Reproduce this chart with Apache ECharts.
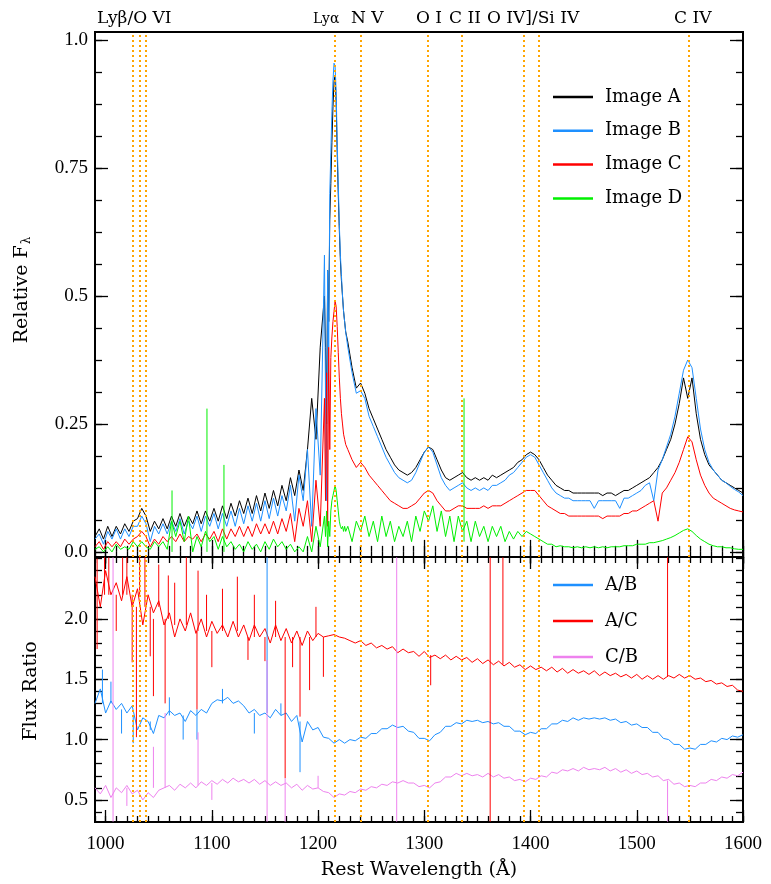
<!DOCTYPE html>
<html><head><meta charset="utf-8">
<script src="https://cdn.jsdelivr.net/npm/echarts@6/dist/echarts.min.js"></script>
<style>html,body{margin:0;padding:0;background:#fff}#c{width:771px;height:884px}</style>
</head><body><div id="c"></div>
<script>
// ---------------- DATA ----------------
const waveTop = [990,994,998,1002,1006,1010,1014,1018,1022,1026,1030,1034,1038,1042,1046,1050,1054,1058,1062,1066,1070,1074,1078,1082,1086,1090,1094,1098,1102,1106,1110,1114,1118,1122,1126,1130,1134,1138,1142,1146,1150,1154,1158,1162,1166,1170,1174,1178,1182,1186,1190,1194,1198,1202,1206,
1207,1208,1209,1210,1211,1212,1213,1214,1215,1216,1217,1218,1219,1220,1221,1222,1223,1224,1225,1226,
1228,1232,1236,1240,1244,1248,1252,1256,1260,1264,1268,1272,1276,1280,1284,1288,1292,1296,1300,1304,1308,1312,1316,1320,1324,1328,1332,1336,1340,1344,1348,1352,1356,1360,1364,1368,1372,1376,1380,1384,1388,1392,1396,1400,1404,1408,1412,1416,1420,1424,1428,1432,1436,1440,1444,1448,1452,1456,1460,1464,1468,1472,1476,1480,1484,1488,1492,1496,1500,1504,1508,1512,1516,1520,1524,1528,1532,1536,1540,1544,1548,1552,1556,1560,1564,1568,1572,1576,1580,1584,1588,1592,1596,1600];

const fluxA = [0.03,0.045,0.025,0.05,0.03,0.05,0.035,0.055,0.04,0.06,0.065,0.085,0.07,0.04,0.06,0.045,0.065,0.045,0.07,0.05,0.075,0.05,0.07,0.055,0.08,0.055,0.08,0.06,0.085,0.06,0.09,0.065,0.095,0.07,0.1,0.075,0.105,0.075,0.11,0.08,0.115,0.085,0.12,0.09,0.13,0.1,0.145,0.11,0.16,0.12,0.2,0.3,0.22,0.4,0.5,
0.4,0.25,0.55,0.45,0.65,0.72,0.8,0.87,0.92,0.93,0.88,0.78,0.7,0.63,0.57,0.53,0.5,0.47,0.45,0.43,
0.41,0.36,0.32,0.33,0.31,0.28,0.26,0.24,0.22,0.2,0.185,0.17,0.16,0.155,0.15,0.155,0.165,0.18,0.195,0.205,0.2,0.18,0.16,0.145,0.14,0.145,0.15,0.155,0.145,0.14,0.145,0.14,0.145,0.14,0.15,0.145,0.15,0.155,0.16,0.165,0.175,0.18,0.19,0.195,0.19,0.18,0.165,0.15,0.14,0.13,0.125,0.12,0.12,0.115,0.115,0.115,0.115,0.115,0.115,0.115,0.11,0.115,0.115,0.11,0.115,0.12,0.12,0.125,0.13,0.135,0.14,0.145,0.155,0.165,0.18,0.2,0.22,0.25,0.29,0.34,0.3,0.34,0.27,0.22,0.19,0.17,0.16,0.15,0.14,0.135,0.13,0.125,0.12,0.115];

const fluxB = [0.025,0.035,0.015,0.04,0.025,0.045,0.025,0.045,0.03,0.05,0.05,0.07,0.055,0.02,0.05,0.035,0.055,0.035,0.06,0.04,0.065,0.035,0.06,0.045,0.07,0.04,0.07,0.05,0.075,0.045,0.075,0.05,0.08,0.05,0.085,0.055,0.09,0.06,0.095,0.06,0.1,0.065,0.105,0.07,0.11,0.08,0.13,0.06,0.15,0.1,0.2,0.05,0.28,0.15,0.58,
0.3,0.1,0.55,0.4,0.7,0.78,0.86,0.92,0.955,0.95,0.9,0.8,0.72,0.64,0.58,0.54,0.5,0.47,0.45,0.43,
0.4,0.35,0.31,0.315,0.3,0.265,0.245,0.225,0.205,0.185,0.17,0.155,0.145,0.14,0.135,0.14,0.155,0.175,0.195,0.205,0.195,0.17,0.145,0.13,0.12,0.125,0.13,0.135,0.125,0.12,0.125,0.12,0.125,0.12,0.13,0.13,0.135,0.14,0.15,0.155,0.165,0.175,0.185,0.19,0.185,0.17,0.155,0.14,0.125,0.115,0.11,0.105,0.105,0.1,0.1,0.1,0.1,0.1,0.085,0.1,0.1,0.1,0.1,0.1,0.085,0.105,0.105,0.11,0.115,0.12,0.13,0.135,0.1,0.16,0.18,0.205,0.23,0.265,0.31,0.355,0.375,0.36,0.3,0.24,0.2,0.175,0.16,0.15,0.14,0.135,0.128,0.122,0.117,0.11];

const fluxC = [0.01,0.02,0.005,0.02,0.01,0.02,0.01,0.025,0.015,0.025,0.03,0.04,0.03,0.01,0.025,0.015,0.03,0.02,0.03,0.02,0.035,0.02,0.03,0.025,0.035,0.02,0.035,0.025,0.04,0.02,0.045,0.025,0.045,0.03,0.05,0.03,0.05,0.03,0.055,0.035,0.055,0.035,0.06,0.035,0.065,0.04,0.075,0.02,0.085,0.05,0.1,0.02,0.14,0.05,0.3,
0.1,0.35,0.05,0.4,0.2,0.38,0.42,0.45,0.47,0.49,0.48,0.44,0.39,0.34,0.3,0.27,0.25,0.23,0.22,0.21,
0.2,0.18,0.165,0.175,0.165,0.15,0.14,0.13,0.12,0.11,0.1,0.095,0.09,0.085,0.085,0.09,0.095,0.105,0.115,0.12,0.115,0.1,0.09,0.08,0.08,0.085,0.09,0.09,0.085,0.085,0.085,0.085,0.09,0.085,0.09,0.09,0.09,0.095,0.1,0.105,0.11,0.115,0.12,0.12,0.12,0.11,0.1,0.09,0.085,0.08,0.075,0.075,0.07,0.07,0.07,0.07,0.07,0.07,0.07,0.07,0.065,0.07,0.07,0.07,0.07,0.075,0.075,0.08,0.08,0.085,0.09,0.095,0.1,0.06,0.115,0.125,0.14,0.155,0.175,0.2,0.225,0.215,0.18,0.15,0.13,0.115,0.105,0.1,0.095,0.09,0.085,0.082,0.08,0.078];

const fluxD = [0.005,0.01,0.0,0.01,0.0,0.015,0.005,0.01,0.005,0.02,0.01,0.02,0.01,0.005,0.02,0.01,0.02,0.005,0.06,0.03,0.06,0.02,0.07,0.0,0.03,0.01,0.04,0.02,0.03,0.005,0.03,0.01,0.02,0.005,0.015,0.0,0.02,0.005,0.015,0.0,0.02,0.005,0.025,0.01,0.02,0.005,0.015,0.0,0.01,0.0,0.03,0.0,0.05,0.01,0.07,
0.03,0.08,0.01,0.06,0.03,0.08,0.1,0.11,0.12,0.13,0.12,0.1,0.08,0.06,0.05,0.045,0.05,0.04,0.05,0.04,
0.05,0.02,0.06,0.04,0.07,0.03,0.06,0.02,0.07,0.03,0.06,0.02,0.05,0.03,0.06,0.02,0.07,0.04,0.08,0.06,0.09,0.04,0.08,0.03,0.07,0.02,0.07,0.04,0.06,0.02,0.06,0.03,0.05,0.02,0.05,0.03,0.05,0.02,0.04,0.025,0.04,0.03,0.04,0.035,0.03,0.025,0.02,0.015,0.015,0.01,0.012,0.01,0.01,0.008,0.01,0.008,0.01,0.008,0.01,0.008,0.01,0.008,0.01,0.01,0.01,0.012,0.012,0.012,0.015,0.015,0.015,0.018,0.018,0.02,0.022,0.025,0.028,0.032,0.037,0.042,0.045,0.04,0.032,0.025,0.02,0.015,0.012,0.01,0.01,0.008,0.008,0.006,0.005,0.005];

// narrow emission spikes of image D: [wavelength, base, height]
const spikesD = [[1062.5,0.0,0.12],[1095.4,0.0,0.28],[1111.4,0.0,0.17],[1337.4,0.02,0.30]];

const waveRatio = [990,995,1000,1005,1010,1015,1020,1025,1030,1035,1040,1045,1050,1055,1060,1065,1070,1075,1080,1085,1090,1095,1100,1105,1110,1115,1120,1125,1130,1135,1140,1145,1150,1155,1160,1165,1170,1175,1180,1185,1190,1195,1200,1205,1210,1215,1220,1225,1230,1235,1240,1245,1250,1255,1260,1265,1270,1275,1280,1285,1290,1295,1300,1305,1310,1315,1320,1325,1330,1335,1340,1345,1350,1355,1360,1365,1370,1375,1380,1385,1390,1395,1400,1405,1410,1415,1420,1425,1430,1435,1440,1445,1450,1455,1460,1465,1470,1475,1480,1485,1490,1495,1500,1505,1510,1515,1520,1525,1530,1535,1540,1545,1550,1555,1560,1565,1570,1575,1580,1585,1590,1595,1600];

const ratioAB = [1.3,1.42,1.22,1.32,1.25,1.3,1.22,1.28,1.08,1.18,1.15,1.05,1.2,1.18,1.24,1.2,1.22,1.15,1.24,1.2,1.25,1.22,1.3,1.33,1.32,1.35,1.3,1.32,1.28,1.22,1.25,1.2,1.22,1.18,1.25,1.2,1.22,1.15,1.2,0.98,1.15,1.08,1.1,1.02,1.01,0.97,1.0,0.97,1.0,0.99,1.02,1.01,1.05,1.05,1.09,1.09,1.12,1.1,1.11,1.07,1.06,1.01,1.01,0.99,1.04,1.06,1.11,1.11,1.14,1.13,1.16,1.15,1.16,1.14,1.15,1.13,1.14,1.11,1.11,1.07,1.07,1.04,1.06,1.05,1.09,1.09,1.13,1.13,1.16,1.15,1.18,1.16,1.18,1.17,1.18,1.17,1.18,1.16,1.17,1.14,1.15,1.12,1.13,1.1,1.1,1.06,1.06,1.01,1.0,0.96,0.96,0.92,0.93,0.92,0.96,0.96,0.99,0.98,1.01,1.0,1.03,1.02,1.04];

const ratioAC = [2.35,2.1,2.4,2.2,2.3,2.15,2.35,2.1,2.25,1.95,2.2,2.05,2.15,1.95,2.05,1.85,2.0,1.9,2.05,1.88,2.0,1.85,1.98,1.88,1.95,1.85,1.98,1.85,1.95,1.82,1.95,1.85,1.92,1.8,1.95,1.82,1.92,1.8,1.9,1.78,1.9,1.82,1.88,1.85,1.86,1.87,1.85,1.84,1.82,1.8,1.82,1.78,1.8,1.76,1.78,1.75,1.77,1.72,1.75,1.72,1.73,1.69,1.73,1.68,1.7,1.67,1.7,1.66,1.69,1.66,1.68,1.64,1.67,1.63,1.66,1.62,1.65,1.61,1.64,1.6,1.62,1.58,1.61,1.58,1.6,1.57,1.6,1.56,1.59,1.55,1.58,1.55,1.57,1.54,1.57,1.53,1.56,1.53,1.55,1.52,1.54,1.51,1.54,1.5,1.53,1.5,1.53,1.5,1.53,1.51,1.54,1.51,1.53,1.5,1.51,1.48,1.49,1.46,1.47,1.44,1.45,1.41,1.4];

const ratioCB = [0.6,0.55,0.62,0.52,0.6,0.56,0.62,0.55,0.58,0.5,0.56,0.52,0.58,0.6,0.62,0.58,0.63,0.6,0.64,0.6,0.65,0.62,0.66,0.63,0.67,0.64,0.68,0.65,0.67,0.64,0.67,0.63,0.66,0.62,0.65,0.62,0.64,0.6,0.63,0.58,0.62,0.59,0.6,0.57,0.56,0.52,0.55,0.54,0.57,0.56,0.59,0.58,0.61,0.6,0.63,0.62,0.65,0.64,0.66,0.64,0.64,0.61,0.62,0.6,0.64,0.65,0.69,0.69,0.72,0.7,0.72,0.7,0.71,0.69,0.72,0.69,0.71,0.68,0.69,0.66,0.67,0.65,0.68,0.67,0.7,0.69,0.73,0.72,0.75,0.74,0.76,0.74,0.77,0.75,0.76,0.75,0.77,0.74,0.76,0.73,0.75,0.72,0.74,0.71,0.72,0.69,0.7,0.66,0.67,0.63,0.64,0.61,0.62,0.61,0.64,0.64,0.67,0.66,0.69,0.68,0.71,0.7,0.73];

// narrow glitches in the ratios: [wavelength, from, to]
const spikesAB = [[997,1.3,1.58],[1005,1.3,1.48],[1015,1.25,1.05],[1026,1.2,0.97],[1042,1.15,1.08],[1060,1.2,1.35],[1073,1.2,1.0],[1086,1.25,1.0],[1110,1.3,1.42],[1140,1.22,1.05],[1152,1.22,2.51],[1165,1.2,1.3],[1183,1.15,0.73]];
const spikesAC = [[992,2.5,1.75],[999,2.2,2.51],[1003,2.2,2.51],[1010,2.2,1.9],[1016,2.2,2.51],[1020,2.2,2.51],[1025,2.2,1.64],[1029,2.1,1.02],[1032,2.2,2.51],[1037,2.1,2.51],[1042,2.1,1.69],[1045,2.0,1.36],[1050,2.1,2.45],[1056,2.0,1.3],[1059,2.0,2.36],[1065,1.95,2.3],[1076,1.95,2.51],[1086,1.9,1.25],[1087,1.9,2.4],[1095,1.9,2.2],[1100,1.9,1.6],[1110,1.9,2.25],[1124,1.9,2.35],[1134,1.85,1.66],[1140,1.85,2.2],[1150,1.85,1.65],[1160,1.85,2.15],[1169,1.85,0.68],[1176,1.85,1.6],[1183,1.85,1.19],[1192,1.85,1.41],[1198,1.85,2.1],[1205,1.85,1.52],[1306,1.7,1.45],[1362,0.32,2.51],[1374,1.62,2.51],[1529,1.52,2.51]];
const spikesCB = [[1007,0.32,2.51],[1020,0.6,0.45],[1045,0.6,0.94],[1056,0.6,1.22],[1087,0.62,1.06],[1100,0.64,0.5],[1152,0.32,1.66],[1169,0.32,0.68],[1200,0.6,0.7],[1274,0.32,2.51],[1529,0.32,0.66]];

// emission-line markers
const lineWaves = [1025.7,1031.9,1037.6,1215.7,1240.1,1303.5,1335.3,1393.8,1407.5,1549.1];
const lineLabels = ['Lyβ/O VI','Lyα','N V','O I','C II','O IV]/Si IV','C IV'];

// tick labels
const xTicks = [1000,1100,1200,1300,1400,1500,1600];
const xTickLabels = ['1000','1100','1200','1300','1400','1500','1600'];
const yTicksTop = [0,0.25,0.5,0.75,1.0];
const yTickLabelsTop = ['0.0','0.25','0.5','0.75','1.0'];
const yTicksBot = [0.5,1.0,1.5,2.0];
const yTickLabelsBot = ['0.5','1.0','1.5','2.0'];

const seriesNamesTop = ['Image A','Image B','Image C','Image D'];
const seriesNamesBot = ['A/B','A/C','C/B'];

// ---------------- CHART ----------------
const COLORS = {A:'#000000', B:'#1E90FF', C:'#FF0000', D:'#00F000', CB:'#EE82EE'};
const ORANGE = '#FFA500';
const TICK_FONT = 'Liberation Serif';
const TEXT_FONT = 'DejaVu Serif';

function range(a, b, s) { const r = []; for (let v = a; v <= b + 1e-9; v += s) r.push(+v.toFixed(4)); return r; }
const xMinor = range(990, 1600, 10);
const yMinorTop = range(0, 1.0, 0.0625);
const yMinorBot = range(0.4, 2.5, 0.1);

function lookup(vals, labels) {
  return function (v) { const i = vals.findIndex(t => Math.abs(t - v) < 1e-6); return i >= 0 ? labels[i] : ''; };
}

const XMIN = 990, XMAX = 1600;
const YTOP = [-0.01, 1.016];
const YBOT = [0.317, 2.513];

function tick(values, len) {
  return {show: true, inside: true, length: len, customValues: values, lineStyle: {color: '#000', width: 1.3}};
}
function makeX(grid, showLabels) {
  const base = {type: 'value', gridIndex: grid, min: XMIN, max: XMAX, splitLine: {show: false}, axisLine: {show: false}};
  return [
    Object.assign({}, base, {position: 'bottom', axisTick: tick(xTicks, 12),
      axisLabel: {show: showLabels, customValues: xTicks, formatter: lookup(xTicks, xTickLabels), margin: 13,
        color: '#000', fontFamily: TICK_FONT, fontSize: 19}}),
    Object.assign({}, base, {position: 'bottom', axisTick: tick(xMinor, 6), axisLabel: {show: false}}),
    Object.assign({}, base, {position: 'top', axisTick: tick(xTicks, 12), axisLabel: {show: false}}),
    Object.assign({}, base, {position: 'top', axisTick: tick(xMinor, 6), axisLabel: {show: false}})
  ];
}
function makeY(grid, ext, major, minor, labels) {
  const base = {type: 'value', gridIndex: grid, min: ext[0], max: ext[1], splitLine: {show: false}, axisLine: {show: false}};
  return [
    Object.assign({}, base, {position: 'left', axisTick: tick(major, 13),
      axisLabel: {show: true, customValues: major, formatter: lookup(major, labels), margin: 7,
        color: '#000', fontFamily: TICK_FONT, fontSize: 19}}),
    Object.assign({}, base, {position: 'left', axisTick: tick(minor, 7), axisLabel: {show: false}}),
    Object.assign({}, base, {position: 'right', axisTick: tick(major, 13), axisLabel: {show: false}}),
    Object.assign({}, base, {position: 'right', axisTick: tick(minor, 7), axisLabel: {show: false}})
  ];
}

function pairs(xs, ys) { return xs.map((x, i) => [x, ys[i]]); }
// vertical segments separated by gaps
function segs(list) {
  const out = [];
  list.forEach(s => { out.push([s[0], s[1]], [s[0], s[2]], [s[0], '-']); });
  return out;
}
function lineSeries(name, data, color, xi, extra) {
  return Object.assign({
    name: name, type: 'line', xAxisIndex: xi, yAxisIndex: xi, data: data,
    symbol: 'none', showSymbol: false, clip: true, animation: false, connectNulls: false,
    lineStyle: {color: color, width: 1}, itemStyle: {color: color}, emphasis: {disabled: true}
  }, extra || {});
}
const orangeMark = {silent: true, symbol: ['none', 'none'], label: {show: false}, animation: false,
  lineStyle: {color: ORANGE, type: [2, 3], width: 2}, emphasis: {disabled: true},
  data: lineWaves.map(w => ({xAxis: w}))};

const series = [
  lineSeries(seriesNamesTop[0], pairs(waveTop, fluxA), COLORS.A, 0),
  lineSeries(seriesNamesTop[1], pairs(waveTop, fluxB), COLORS.B, 0),
  lineSeries(seriesNamesTop[2], pairs(waveTop, fluxC), COLORS.C, 0),
  lineSeries(seriesNamesTop[3], pairs(waveTop, fluxD), COLORS.D, 0),
  lineSeries('spD', segs(spikesD), COLORS.D, 0),
  lineSeries(seriesNamesBot[0], pairs(waveRatio, ratioAB), COLORS.B, 4),
  lineSeries(seriesNamesBot[1], pairs(waveRatio, ratioAC), COLORS.C, 4),
  lineSeries(seriesNamesBot[2], pairs(waveRatio, ratioCB), COLORS.CB, 4),
  lineSeries('spAB', segs(spikesAB), COLORS.B, 4),
  lineSeries('spAC', segs(spikesAC), COLORS.C, 4),
  lineSeries('spCB', segs(spikesCB), COLORS.CB, 4),
  lineSeries('orTop', [], ORANGE, 0, {markLine: orangeMark}),
  lineSeries('orBot', [], ORANGE, 4, {markLine: orangeMark})
];

const labelX = [97, 313, 351, 416, 449, 487, 674];
const graphics = lineLabels.map((t, i) => ({
  type: 'text', x: labelX[i], y: 19, silent: true,
  style: {text: t, fill: '#000', font: (i === 1 ? '14px ' : '17px ') + '"' + TEXT_FONT + '"', textAlign: 'left', textVerticalAlign: 'middle'}
}));
graphics.push({type: 'text', x: 419, y: 870, silent: true,
  style: {text: 'Rest Wavelength (Å)', fill: '#000', font: '19px "' + TEXT_FONT + '"', textAlign: 'center', textVerticalAlign: 'middle'}});
graphics.push({type: 'text', x: 22, y: 290, rotation: Math.PI / 2, silent: true,
  style: {text: 'Relative F{s|λ}', fill: '#000', font: '19px "' + TEXT_FONT + '"', textAlign: 'center', textVerticalAlign: 'middle',
    rich: {s: {fontSize: 12, fontFamily: TEXT_FONT, fill: '#000', padding: [10, 0, 0, 1]}}}});
graphics.push({type: 'text', x: 31, y: 691, rotation: Math.PI / 2, silent: true,
  style: {text: 'Flux Ratio', fill: '#000', font: '19px "' + TEXT_FONT + '"', textAlign: 'center', textVerticalAlign: 'middle'}});

const legendCommon = {show: true, orient: 'vertical', left: 553, itemWidth: 40, itemHeight: 2.5, padding: 0,
  icon: 'rect',
  textStyle: {color: '#000', fontFamily: TEXT_FONT, fontSize: 18, lineHeight: 20, padding: [0, 0, 0, 7]},
  selectedMode: false};

const option = {
  animation: false,
  backgroundColor: '#fff',
  grid: [
    {left: 95, top: 32, width: 648, height: 525, show: true, borderColor: '#000', borderWidth: 2, backgroundColor: 'transparent'},
    {left: 95, top: 557, width: 648, height: 265, show: true, borderColor: '#000', borderWidth: 2, backgroundColor: 'transparent'}
  ],
  xAxis: makeX(0, false).concat(makeX(1, true)),
  yAxis: makeY(0, YTOP, yTicksTop, yMinorTop, yTickLabelsTop).concat(makeY(1, YBOT, yTicksBot, yMinorBot, yTickLabelsBot)),
  legend: [
    Object.assign({}, legendCommon, {top: 87, itemGap: 13.8, data: seriesNamesTop}),
    Object.assign({}, legendCommon, {top: 575, itemGap: 16, data: seriesNamesBot})
  ],
  graphic: graphics,
  series: series
};

const chart = echarts.init(document.getElementById('c'));
chart.setOption(option);
</script>
</body></html>
